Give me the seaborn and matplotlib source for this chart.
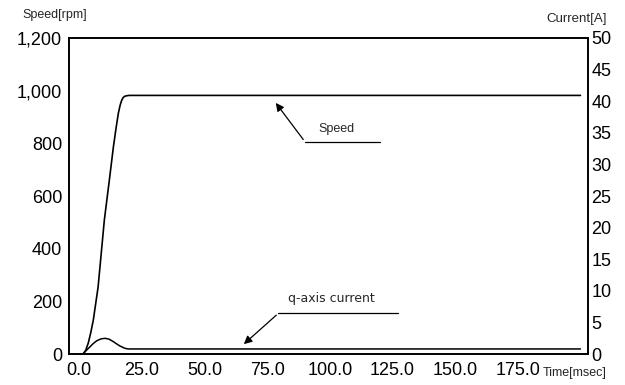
import matplotlib
matplotlib.use("Agg")
import matplotlib.pyplot as plt
import seaborn as sns

# speed response [rpm]
speed_t = [0, 1.7, 2.7, 3.7, 4.7, 5.7, 7.6, 10.1, 12.1, 13.7, 14.8, 15.7, 16.4, 17.0, 17.6, 18.3, 19.2, 20.0, 200]
speed_rpm = [0, 0, 15, 42, 82, 129, 254, 509, 661, 786, 860, 915, 945, 963, 974, 979, 981, 982, 982]

# q-axis current [A]
cur_t = [0, 1.5, 3.0, 4.4, 5.8, 7.1, 8.8, 10.4, 12.0, 13.7, 15.0, 16.3, 18.3, 19.7, 200]
cur_a = [0, 0, 0.6, 1.15, 1.7, 2.1, 2.4, 2.48, 2.35, 1.95, 1.6, 1.27, 0.9, 0.8, 0.8]

x_ticks = [0, 25, 50, 75, 100, 125, 150, 175]
x_labels = ["0.0", "25.0", "50.0", "75.0", "100.0", "125.0", "150.0", "175.0"]
speed_ticks = [0, 200, 400, 600, 800, 1000, 1200]
speed_labels = ["0", "200", "400", "600", "800", "1,000", "1,200"]
cur_ticks = list(range(0, 55, 5))

sns.set_style("white")
plt.rcParams["font.family"] = ["Liberation Sans", "DejaVu Sans"]

fig = plt.figure(figsize=(6.25, 3.85), dpi=100)
ax = fig.add_axes([0.1104, 0.0805, 0.8304, 0.8208])
ax2 = ax.twinx()

sns.lineplot(x=speed_t, y=speed_rpm, ax=ax, color="black", linewidth=1.2)
sns.lineplot(x=cur_t, y=cur_a, ax=ax2, color="black", linewidth=1.1)

ax.set_xlim(-4.0, 203)
ax.set_ylim(0, 1200)
ax2.set_ylim(0, 50)

ax.set_xticks(x_ticks)
ax.set_xticklabels(x_labels)
ax.set_yticks(speed_ticks)
ax.set_yticklabels(speed_labels)
ax2.set_yticks(cur_ticks)

ax.tick_params(axis="both", length=0, labelsize=13, colors="black")
ax.tick_params(axis="y", pad=5)
ax.tick_params(axis="x", pad=6)
ax2.tick_params(axis="y", length=0, labelsize=13, pad=2.5, colors="black")

for a in (ax, ax2):
    for s in a.spines.values():
        s.set_color("black")
        s.set_linewidth(1.2)

ax.set_xlabel("")
ax.set_ylabel("")
ax2.set_ylabel("")

# axis titles
fig.text(22 / 625, 1 - 15 / 385, "Speed[rpm]", fontsize=9, ha="left", va="center")
fig.text(607 / 625, 1 - 19 / 385, "Current[A]", fontsize=9.5, ha="right", va="center")
fig.text(607 / 625, 1 - 373 / 385, "Time[msec]", fontsize=9, ha="right", va="center")

# annotations
ax.annotate("", xy=(77.8, 962), xytext=(90.1, 806),
            arrowprops=dict(arrowstyle="-|>", color="black", lw=0.9,
                            mutation_scale=12))
ax.plot([90.1, 120], [806, 806], color="black", lw=0.9)
ax.text(102.5, 855, "Speed", fontsize=9, ha="center", va="center")

ax2.annotate("", xy=(64.9, 1.27), xytext=(79.5, 6.44),
             arrowprops=dict(arrowstyle="-|>", color="black", lw=0.9,
                             mutation_scale=12))
ax2.plot([79.5, 127.2], [6.44, 6.44], color="black", lw=0.9)
ax2.text(100.5, 8.86, "q-axis current", fontsize=9, ha="center", va="center",
         family="DejaVu Sans")

fig.savefig("out.png", dpi=100)
